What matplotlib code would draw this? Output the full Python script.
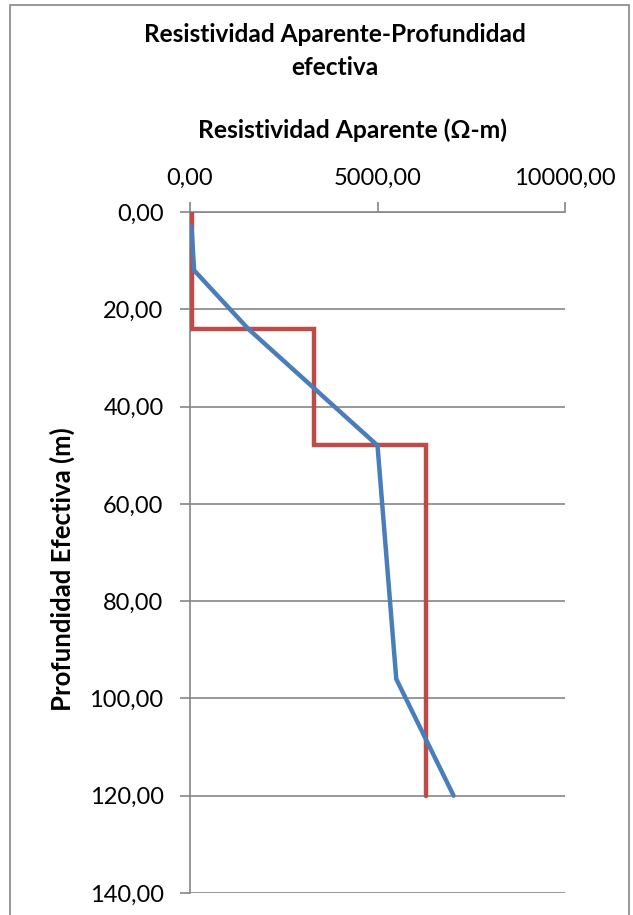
import matplotlib
matplotlib.use('Agg')
import matplotlib.pyplot as plt
from matplotlib.patches import Rectangle

# apparent resistivity curve (blue) and layered model (red)
rho_ap = [40, 110, 1550, 5000, 5500, 7030]
prof_ap = [3, 12, 24, 48, 96, 120]

rho_mod = [55, 55, 3300, 3300, 6280, 6280]
prof_mod = [0, 24, 24, 48, 48, 120]

xticks = [0, 5000, 10000]
yticks = [0, 20, 40, 60, 80, 100, 120, 140]

plt.rcParams['font.family'] = ['Lato', 'DejaVu Sans']
gris = '#868686'

W, H = 633, 915
fig = plt.figure(figsize=(W / 100, H / 100), dpi=100)
fig.patch.set_facecolor('white')

# chart border
fig.patches.append(Rectangle((10 / W, -0.01), 619 / W, 1 - 5 / H + 0.01,
                             transform=fig.transFigure, fill=False,
                             edgecolor=gris, lw=1.2))

ax = fig.add_axes([190 / W, 1 - 893 / H, 375 / W, 681 / H])

ax.plot(rho_mod, prof_mod, color='#BE4B48', lw=3.2, solid_capstyle='round',
        solid_joinstyle='miter', zorder=3)
ax.plot(rho_ap, prof_ap, color='#4A7EBB', lw=3.2, solid_capstyle='round',
        zorder=4)

ax.set_xlim(0, 10000)
ax.set_ylim(140, 0)
ax.xaxis.tick_top()
ax.xaxis.set_label_position('top')
ax.set_xticks(xticks)
ax.set_yticks(yticks)
ax.set_xticklabels(['%d,00' % v for v in xticks])
ax.set_yticklabels(['%d,00' % v for v in yticks])
ax.tick_params(axis='both', colors=gris, labelcolor='black', labelsize=17,
               length=7, width=1.2, direction='out')
ax.tick_params(axis='x', pad=10)
ax.tick_params(axis='y', pad=12)

for s in ['right', 'bottom']:
    ax.spines[s].set_visible(False)
for s in ['top', 'left']:
    ax.spines[s].set_color(gris)
    ax.spines[s].set_linewidth(1.2)

ax.grid(axis='y', color=gris, lw=1.2)
ax.set_axisbelow(True)

ax.set_xlabel('Resistividad Aparente (Ω-m)', fontsize=17.7, fontweight='bold')
ax.xaxis.set_label_coords(0.432, 1.12)
ax.xaxis.label.set_va('center')
ax.set_ylabel('Profundidad Efectiva (m)', fontsize=18.5, fontweight='bold')
ax.yaxis.set_label_coords(-0.341, 0.476)
ax.yaxis.label.set_va('center')

fig.text(335 / W, 1 - 51 / H, 'Resistividad Aparente-Profundidad\nefectiva',
         ha='center', va='center', fontsize=17.6, fontweight='bold',
         linespacing=1.5)

fig.savefig('out.png', dpi=100)
